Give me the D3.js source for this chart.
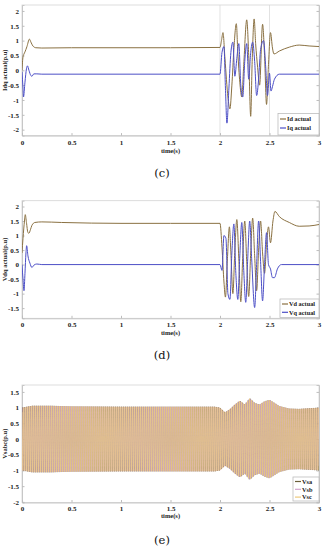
<!DOCTYPE html>
<html>
<head>
<meta charset="utf-8">
<script src="https://cdn.jsdelivr.net/npm/d3@7"></script>
<style>
    body { margin: 0; background: #fff; }
    svg { display: block; }
</style>
</head>
<body>
<svg width="325" height="550"></svg>
<script>
// ---- data ----
const timeTicks = [0, 0.5, 1, 1.5, 2, 2.5, 3];
const timeTickLabels = ['0', '0.5', '1', '1.5', '2', '2.5', '3'];

// (c) Id / Iq actual, [time, p.u]
const idActual = [
    [0, 0], [0.01, 0.45], [0.02, 0.55], [0.03, 0.62], [0.05, 0.8], [0.075, 1.05], [0.09, 0.95],
    [0.11, 0.82], [0.14, 0.76], [0.2, 0.75], [0.5, 0.76], [1.0, 0.76], [1.5, 0.76], [2.0, 0.77],
    [2.015, 1.0], [2.03, 1.27], [2.05, 0.4], [2.08, -0.9], [2.1, -1.3], [2.12, -0.5], [2.14, 0.7],
    [2.165, 1.57], [2.18, 0.6], [2.2, -0.4], [2.22, -0.9], [2.24, 0.2], [2.27, 1.7], [2.29, 0.5],
    [2.31, -1.55], [2.325, 0.3], [2.345, 1.73], [2.36, 0.9], [2.38, 0.1], [2.4, -0.5], [2.43, 1.55],
    [2.45, 0.5], [2.47, -1.15], [2.49, 0.2], [2.51, 1.27], [2.53, 0.75], [2.545, 0.55], [2.6, 0.65],
    [2.7, 0.78], [2.8, 0.85], [2.9, 0.82], [3.0, 0.8]
];
const iqActual = [
    [0, -0.05], [0.01, -0.6], [0.015, -0.9], [0.03, -0.4], [0.045, 0.05], [0.055, 0.15], [0.07, 0.0],
    [0.09, -0.18], [0.1, -0.2], [0.12, -0.12], [0.15, -0.12], [0.2, -0.13], [1.0, -0.13], [2.0, -0.13],
    [2.02, 0.6], [2.04, 0.8], [2.055, -0.6], [2.07, -1.78], [2.09, -0.6], [2.11, 0.6], [2.13, 0.95],
    [2.15, -0.2], [2.17, 0.4], [2.19, 0.9], [2.21, -0.5], [2.23, -0.9], [2.25, 0.3], [2.27, 0.9],
    [2.29, -0.3], [2.31, 0.6], [2.33, 0.95], [2.35, 0.3], [2.37, -0.85], [2.39, -0.3], [2.41, 0.7],
    [2.44, 1.0], [2.46, 0.2], [2.48, -0.85], [2.5, -0.1], [2.515, -0.7], [2.53, -0.55], [2.55, -0.3],
    [2.6, -0.13], [3.0, -0.13]
];

// (d) Vd / Vq actual
const vdActual = [
    [0, 0.4], [0.01, 0.9], [0.025, 1.5], [0.033, 1.72], [0.045, 1.45], [0.06, 1.1], [0.07, 1.08],
    [0.085, 1.2], [0.1, 1.35], [0.13, 1.45], [0.2, 1.47], [0.4, 1.45], [1.0, 1.42], [1.5, 1.42],
    [2.0, 1.42], [2.02, 0.6], [2.04, -0.6], [2.055, -1.12], [2.075, 0.2], [2.095, 1.3], [2.11, 0.4],
    [2.13, -1.0], [2.15, 0.5], [2.17, 1.55], [2.19, 0.2], [2.21, -1.28], [2.23, 0.3], [2.25, 1.5],
    [2.27, 0.1], [2.29, -1.1], [2.31, 0.4], [2.33, 1.6], [2.35, 0.3], [2.37, -0.9], [2.39, 0.5],
    [2.41, 1.5], [2.43, 0.4], [2.45, -0.3], [2.47, 0.7], [2.49, 1.3], [2.51, 0.75], [2.535, 1.5],
    [2.555, 1.83], [2.6, 1.65], [2.7, 1.45], [2.8, 1.32], [2.9, 1.33], [3.0, 1.38]
];
const vqActual = [
    [0, 0], [0.01, -0.5], [0.02, -0.9], [0.03, -0.3], [0.04, 0.4], [0.047, 0.65], [0.06, 0.3],
    [0.08, 0.05], [0.1, -0.1], [0.12, -0.02], [0.15, 0.02], [0.2, 0.0], [2.0, 0.0], [2.02, -0.2],
    [2.04, 1.0], [2.06, 0.9], [2.08, -1.0], [2.1, -1.2], [2.12, 0.4], [2.14, 1.4], [2.16, -0.3],
    [2.18, -1.2], [2.2, 0.3], [2.22, 1.45], [2.24, -0.2], [2.26, -1.3], [2.28, 0.2], [2.3, 1.5],
    [2.32, 0.2], [2.35, -1.48], [2.37, 0.0], [2.39, 1.5], [2.41, 0.1], [2.43, -1.25], [2.45, 0.0],
    [2.47, 1.1], [2.49, 0.0], [2.51, -0.15], [2.53, -0.45], [2.55, -0.45], [2.58, -0.15],
    [2.62, 0.0], [3.0, 0.0]
];

// (e) Vsabc: peak envelope of the three phase voltages, 50 Hz grid
const vsEnvTime = [0, 0.1, 0.3, 0.5, 1.0, 1.5, 1.95, 2.0, 2.05, 2.1, 2.15, 2.2, 2.25, 2.3, 2.35, 2.4, 2.45, 2.5, 2.55, 2.6, 2.7, 2.8, 3.0];
const vsEnvPeak = [1.0, 1.06, 1.06, 1.04, 1.03, 1.03, 1.03, 1.0, 0.85, 0.95, 1.1, 1.22, 1.1, 1.3, 1.15, 1.1, 1.2, 1.25, 1.15, 1.05, 0.97, 0.96, 1.0];
const vsPhaseDeg = [0, -120, 120];
const gridFreq = 50;

const colors = {
    d: '#8a7142',
    q: '#4c4fc6',
    vsa: '#6a5e38',
    vsb: '#d2a2cc',
    vsc: '#ecc97c'
};

const svg = d3.select('svg');
const x0 = 22, x1 = 319;
const serif = '"Liberation Serif", "Times New Roman", serif';

function drawPanel(cfg) {
    const xScale = d3.scaleLinear().domain([0, 3]).range([x0, x1]);
    const yScale = d3.scaleLinear().domain(cfg.yDomain).range([cfg.bottom, cfg.top]);
    const g = svg.append('g');

    // frame
    g.append('rect')
        .attr('x', x0).attr('y', cfg.top)
        .attr('width', x1 - x0).attr('height', cfg.bottom - cfg.top)
        .attr('fill', 'none').attr('stroke', '#d4d4d4').attr('stroke-width', 0.8);

    (cfg.vlines || []).forEach((t) => {
        g.append('line')
            .attr('x1', xScale(t)).attr('x2', xScale(t))
            .attr('y1', cfg.top).attr('y2', cfg.bottom)
            .attr('stroke', '#d6d6d6').attr('stroke-width', 0.7);
    });

    // axes (inward ticks, labels only left/bottom)
    const xAxis = d3.axisBottom(xScale).tickValues(timeTicks)
        .tickFormat((d, i) => timeTickLabels[i]).tickSize(-2.5).tickPadding(cfg.xPad);
    const yAxis = d3.axisLeft(yScale).tickValues(cfg.yTicks)
        .tickFormat((d) => String(d)).tickSize(-2.5).tickPadding(3);
    const yAxisR = d3.axisRight(yScale).tickValues(cfg.yTicks).tickFormat('').tickSize(-2.5);

    const gx = g.append('g').attr('transform', `translate(0,${cfg.bottom})`).call(xAxis);
    const gy = g.append('g').attr('transform', `translate(${x0},0)`).call(yAxis);
    const gr = g.append('g').attr('transform', `translate(${x1},0)`).call(yAxisR);
    [gx, gy, gr].forEach((a) => {
        a.select('.domain').attr('stroke', '#bdbdbd').attr('stroke-width', 0.8);
        a.selectAll('.tick line').attr('stroke', '#bdbdbd');
        a.selectAll('text')
            .attr('font-family', serif).attr('font-weight', 'bold')
            .attr('font-size', 7).attr('fill', '#222');
    });

    // series
    const lineGen = d3.line()
        .x((d) => xScale(d[0]))
        .y((d) => yScale(d[1]))
        .curve(cfg.curve || d3.curveMonotoneX);
    const clipId = 'clip-' + cfg.name;
    g.append('clipPath').attr('id', clipId)
        .append('rect').attr('x', x0).attr('y', cfg.top)
        .attr('width', x1 - x0).attr('height', cfg.bottom - cfg.top);
    const plot = g.append('g').attr('clip-path', `url(#${clipId})`);
    (cfg.drawOrder || cfg.series.map((s, i) => i)).forEach((i) => {
        const s = cfg.series[i];
        plot.append('path')
            .attr('d', lineGen(s.data))
            .attr('fill', 'none')
            .attr('stroke', s.color)
            .attr('stroke-width', s.width || 1.0);
    });

    // y label
    g.append('text')
        .attr('transform', `translate(7,${(cfg.top + cfg.bottom) / 2}) rotate(-90)`)
        .attr('text-anchor', 'middle')
        .attr('font-family', serif).attr('font-weight', 'bold')
        .attr('font-size', 6.5).attr('fill', '#222')
        .text(cfg.yLabel);

    // x label
    g.append('text')
        .attr('x', (x0 + x1) / 2).attr('y', cfg.xLabelY)
        .attr('text-anchor', 'middle')
        .attr('font-family', serif).attr('font-weight', 'bold')
        .attr('font-size', 6.5).attr('fill', '#222')
        .text('time(s)');

    // legend
    const lg = cfg.legend;
    g.append('rect')
        .attr('x', lg.x).attr('y', lg.y).attr('width', x1 - lg.x).attr('height', lg.h)
        .attr('fill', '#fff').attr('stroke', '#bdbdbd').attr('stroke-width', 0.8);
    cfg.series.forEach((s, i) => {
        const yy = lg.y + lg.first + i * lg.step;
        g.append('line')
            .attr('x1', lg.x + 2).attr('x2', lg.x + 8)
            .attr('y1', yy).attr('y2', yy)
            .attr('stroke', s.color).attr('stroke-width', 1.2);
        g.append('text')
            .attr('x', lg.x + 9).attr('y', yy)
            .attr('dy', '0.35em')
            .attr('font-family', serif).attr('font-weight', 'bold')
            .attr('font-size', 6.3).attr('fill', '#222')
            .text(s.name);
    });

    // caption
    svg.append('text')
        .attr('x', 162).attr('y', cfg.captionY)
        .attr('text-anchor', 'middle')
        .attr('font-family', '"DejaVu Serif", serif')
        .attr('font-size', 11.5).attr('fill', '#111')
        .text(cfg.caption);
}

drawPanel({
    name: 'c', top: 5, bottom: 135.6, yDomain: [-2.2, 2.2],
    yTicks: [-2, -1.5, -1, -0.5, 0, 0.5, 1, 1.5, 2],
    yLabel: 'Idq actual(p.u)', xPad: 4, xLabelY: 153, vlines: [2, 2.5],
    series: [
        { name: 'Id actual', data: idActual, color: colors.d },
        { name: 'Iq actual', data: iqActual, color: colors.q }
    ],
    legend: { x: 278, y: 113.5, h: 21.5, first: 5.5, step: 9 },
    caption: '(c)', captionY: 177
});

drawPanel({
    name: 'd', top: 200.7, bottom: 318.3, yDomain: [-1.85, 2.2],
    yTicks: [-1.5, -1, -0.5, 0, 0.5, 1, 1.5, 2],
    yLabel: 'Vdq actual(p.u)', xPad: 4, xLabelY: 335,
    series: [
        { name: 'Vd actual', data: vdActual, color: colors.d },
        { name: 'Vq actual', data: vqActual, color: colors.q }
    ],
    legend: { x: 280, y: 299, h: 18.5, first: 5, step: 8.3 },
    caption: '(d)', captionY: 359
});

// (e) three-phase waveforms from the envelope above
const envScale = d3.scaleLinear().domain(vsEnvTime).range(vsEnvPeak);
const vsSamples = d3.range(0, 3.0005, 0.001);
const vsSeries = vsPhaseDeg.map((ph) =>
    vsSamples.map((t) => [t, envScale(t) * Math.sin(2 * Math.PI * gridFreq * t + (ph * Math.PI) / 180)])
);

drawPanel({
    name: 'e', top: 385, bottom: 502.5, yDomain: [-2.02, 1.72],
    yTicks: [-2, -1.5, -1, -0.5, 0, 0.5, 1, 1.5],
    yLabel: 'Vsabc(p.u)', xPad: 4, xLabelY: 518, curve: d3.curveLinear,
    series: [
        { name: 'Vsa', data: vsSeries[0], color: colors.vsa, width: 0.55 },
        { name: 'Vsb', data: vsSeries[1], color: colors.vsb, width: 0.65 },
        { name: 'Vsc', data: vsSeries[2], color: colors.vsc, width: 0.65 }
    ],
    drawOrder: [0, 1, 2],
    legend: { x: 293, y: 477, h: 24, first: 4.5, step: 7.8 },
    caption: '(e)', captionY: 544
});
</script>
</body>
</html>
